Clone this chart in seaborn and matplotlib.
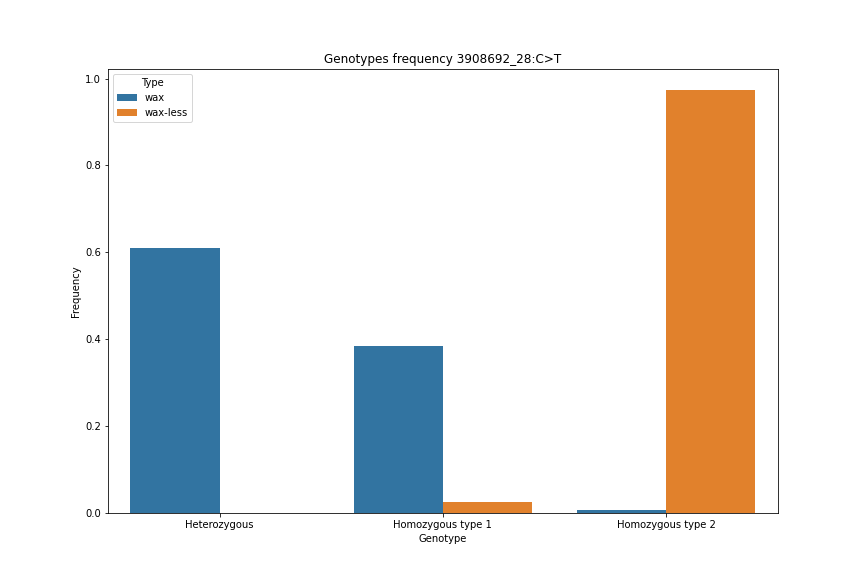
import pandas as pd
import seaborn as sns
from matplotlib import pyplot as plt

genotypes = ["Heterozygous", "Homozygous type 1", "Homozygous type 2"]
types = ["wax", "wax-less"]
wax_freq = [0.610, 0.383, 0.006]
waxless_freq = [0.0, 0.025, 0.973]

df = pd.DataFrame({
    "Genotype": genotypes * 2,
    "Type": ["wax"] * 3 + ["wax-less"] * 3,
    "Frequency": wax_freq + waxless_freq,
})

fig = plt.figure(figsize=(12, 8), dpi=72)
ax = sns.barplot(data=df, x="Genotype", y="Frequency", hue="Type", hue_order=types)
ax.set_title("Genotypes frequency 3908692_28:C>T")
fig.savefig("out.png", dpi=72)
